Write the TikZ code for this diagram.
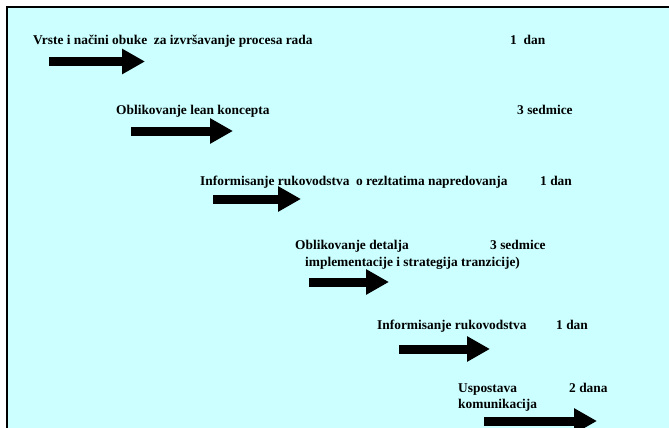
\documentclass[tikz,border=0pt]{standalone}
\usepackage{fontspec}
\setmainfont{Liberation Serif}
\usetikzlibrary{arrows.meta}
\definecolor{panel}{RGB}{204,255,255}
\begin{document}
\begin{tikzpicture}[x=1pt,y=-1pt,
  lbl/.style={anchor=base west,inner sep=0pt,font=\bfseries\fontsize{13.4}{15}\selectfont},
  bigarrow/.style={line width=9pt,-{Triangle[length=23pt,width=24pt]}}]
  \useasboundingbox (0,0) rectangle (669,428);
  % panel with its frame on the top and left sides
  \fill[panel] (7,7) rectangle (669,428);
  \draw[line width=2.5pt] (7,428) -- (7,7) -- (669,7);

  % step 1
  \node[lbl] (t1) at (33,45) {Vrste i načini obuke\ \ za izvršavanje procesa rada};
  \node[lbl] (d1) at (510,45) {1\ \ dan};
  \coordinate (a1s) at (49,61.5);
  \coordinate (a1e) at (145,61.5);
  \draw[bigarrow] (a1s) -- (a1e);

  % step 2
  \node[lbl] (t2) at (116,114) {Oblikovanje lean koncepta};
  \node[lbl] (d2) at (517,114) {3 sedmice};
  \coordinate (a2s) at (131,131);
  \coordinate (a2e) at (233,131);
  \draw[bigarrow] (a2s) -- (a2e);

  % step 3
  \node[lbl] (t3) at (200,185) {Informisanje rukovodstva\ \ o rezltatima napredovanja};
  \node[lbl] (d3) at (540,185) {1 dan};
  \coordinate (a3s) at (213,199);
  \coordinate (a3e) at (301,199);
  \draw[bigarrow] (a3s) -- (a3e);

  % step 4
  \node[lbl] (t4) at (295,249) {Oblikovanje detalja};
  \node[lbl] (d4) at (490,249) {3 sedmice};
  \node[lbl] (t4b) at (305,266) {implementacije i strategija tranzicije)};
  \coordinate (a4s) at (309,282);
  \coordinate (a4e) at (389,282);
  \draw[bigarrow] (a4s) -- (a4e);

  % step 5
  \node[lbl] (t5) at (377,329) {Informisanje rukovodstva};
  \node[lbl] (d5) at (556,329) {1 dan};
  \coordinate (a5s) at (399,349);
  \coordinate (a5e) at (490,349);
  \draw[bigarrow] (a5s) -- (a5e);

  % step 6
  \node[lbl] (t6) at (458,392) {Uspostava};
  \node[lbl] (d6) at (569,392) {2 dana};
  \node[lbl] (t6b) at (458,408) {komunikacija};
  \coordinate (a6s) at (484,421);
  \coordinate (a6e) at (597,421);
  \draw[bigarrow] (a6s) -- (a6e);
\end{tikzpicture}
\end{document}
